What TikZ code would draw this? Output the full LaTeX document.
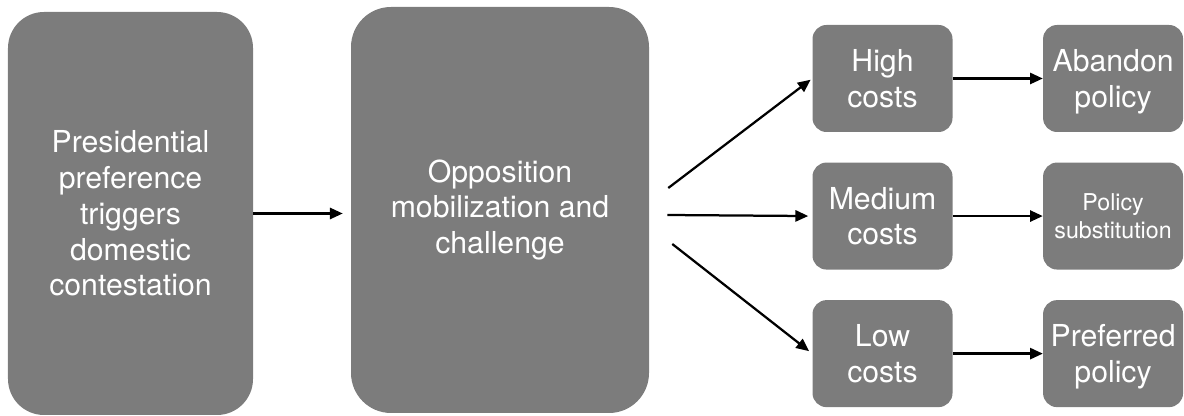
\documentclass[tikz,border=0pt]{standalone}
\usepackage{fontspec}
\setmainfont{TeX Gyre Heros}
\usepackage{tikz}
\usetikzlibrary{calc}
\usetikzlibrary{positioning}
\usetikzlibrary{arrows.meta}
\definecolor{boxgray}{RGB}{124,124,124}
\tikzset{
  myarrow/.style={
    draw=black,
    line width=1.6pt,
    -{Triangle[length=3.2mm,width=2.8mm]},
  },
  mybigbox/.style={
    fill=boxgray,
    shape=rectangle,
    rounded corners=0.9cm,
    align=center,
    text=white,
    inner sep=0pt,
    font=\fontsize{21.5}{25.5}\selectfont
  },
  mysmallbox/.style={
    fill=boxgray,
    shape=rectangle,
    rounded corners=0.35cm,
    align=center,
    text=white,
    inner sep=0pt,
    minimum width=3.5cm,
    minimum height=2.675cm,
    text depth=0pt,
    font=\fontsize{21.5}{25.5}\selectfont
  },
}

\begin{document}
\begin{tikzpicture}
    \useasboundingbox (0,0) rectangle (29.6,10.4);

    \node[mybigbox, minimum width=6.125cm, minimum height=10.075cm] (pres) at (3.2625, 5.0625)
      {Presidential\\preference\\triggers\\domestic\\contestation};
    \node[mybigbox, rounded corners=1cm, minimum width=7.45cm, minimum height=10.15cm] (opp) at (12.5, 5.15)
      {Opposition\\mobilization and\\challenge};

    \node[mysmallbox] (high) at (22.0625, 8.4375) {High\\costs};
    \node[mysmallbox, below=0.75cm of high] (medium) {Medium\\costs};
    \node[mysmallbox, below=0.75cm of medium] (low) {Low\\costs};

    \node[mysmallbox, right=2.25cm of high] (abandon) {Abandon\\policy};
    \node[mysmallbox, right=2.25cm of medium, font=\fontsize{16.5}{20.5}\selectfont] (subst) {Policy\\substitution};
    \node[mysmallbox, right=2.25cm of low] (preferred) {Preferred\\policy};

    % free ends of the fan out of the opposition box
    \coordinate (fanhigh) at ($(opp.east)+(0.475,0.55)$);
    \coordinate (fanmedium) at ($(opp.east)+(0.45,-0.125)$);
    \coordinate (fanlow) at ($(opp.east)+(0.575,-0.85)$);

    \draw [myarrow, shorten >=0.2cm] (pres) -- (pres -| opp.west);
    \draw [myarrow, shorten >=0.05cm] (fanhigh) -- (high.west);
    \draw [myarrow, shorten >=0.1cm] (fanmedium) -- (medium.west);
    \draw [myarrow, shorten >=0.1cm] (fanlow) -- (low.west);

    \draw [myarrow] (high) -- (abandon);
    \draw [myarrow] (medium) -- (subst);
    \draw [myarrow] (low) -- (preferred);
\end{tikzpicture}
\end{document}
